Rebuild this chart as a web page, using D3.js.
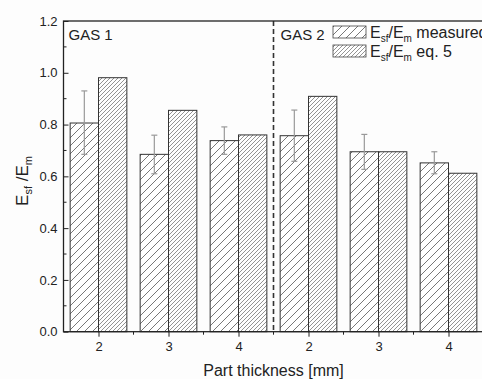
<!DOCTYPE html>
<html><head><meta charset="utf-8">
<script src="https://cdn.jsdelivr.net/npm/d3@7"></script>
<style>
html,body{margin:0;padding:0;background:#fdfdfd;}
text{font-family:"Liberation Sans",Arial,sans-serif;fill:#222;}
</style></head>
<body>
<svg id="chart" width="482" height="379"></svg>
<script>
const categories = ["2","3","4","2","3","4"];
const groupLabels = ["GAS 1","GAS 2"];
const measured = [0.806, 0.685, 0.738, 0.757, 0.695, 0.652];
const errHigh = [0.930, 0.759, 0.791, 0.856, 0.762, 0.695];
const errLow  = [0.685, 0.610, 0.685, 0.658, 0.627, 0.610];
const eq5 = [0.981, 0.855, 0.760, 0.909, 0.695, 0.612];
const yTicks = [0, 0.2, 0.4, 0.6, 0.8, 1.0, 1.2];

const svg = d3.select("#chart");
const x = d3.scaleLinear().domain([0.5, 6.5]).range([63.5, 483.5]);
const y = d3.scaleLinear().domain([0, 1.2]).range([331.7, 21]);
const bw = 0.405;

const defs = svg.append("defs");
function hatch(id, size, col, sw){
  const p = defs.append("pattern").attr("id", id).attr("patternUnits","userSpaceOnUse")
    .attr("width", size).attr("height", size);
  p.append("rect").attr("width",size).attr("height",size).attr("fill","#fff");
  p.append("path").attr("d",`M0,${size} L${size},0 M${-size/2},${size/2} L${size/2},${-size/2} M${size/2},${size*1.5} L${size*1.5},${size/2}`)
    .attr("stroke",col).attr("stroke-width",sw);
}
hatch("hMeas", 8, "#555", 0.8);
hatch("hEq", 4, "#666", 0.7);

const idx = d3.range(categories.length);
// bars
svg.append("g").selectAll("rect").data(idx).join("rect")
  .attr("x", i => x(i+1-bw)).attr("width", i => x(i+1) - x(i+1-bw))
  .attr("y", i => y(measured[i])).attr("height", i => y(0) - y(measured[i]))
  .attr("fill","url(#hMeas)").attr("stroke","#333").attr("stroke-width",1);
svg.append("g").selectAll("rect").data(idx).join("rect")
  .attr("x", i => x(i+1)).attr("width", i => x(i+1+bw) - x(i+1))
  .attr("y", i => y(eq5[i])).attr("height", i => y(0) - y(eq5[i]))
  .attr("fill","url(#hEq)").attr("stroke","#333").attr("stroke-width",1);
// error bars
const eg = svg.append("g").attr("stroke","#999").attr("stroke-width",1.2);
idx.forEach(i => {
  const cx = x(i+1-bw/2);
  eg.append("line").attr("x1",cx).attr("x2",cx).attr("y1",y(errLow[i])).attr("y2",y(errHigh[i]));
  eg.append("line").attr("x1",cx-3).attr("x2",cx+3).attr("y1",y(errLow[i])).attr("y2",y(errLow[i]));
  eg.append("line").attr("x1",cx-3).attr("x2",cx+3).attr("y1",y(errHigh[i])).attr("y2",y(errHigh[i]));
});

// dashed separator
svg.append("line").attr("x1",x(3.5)).attr("x2",x(3.5)).attr("y1",y(1.2)).attr("y2",y(0))
  .attr("stroke","#333").attr("stroke-width",1.6).attr("stroke-dasharray","5,3");

// frame
svg.append("rect").attr("x",x(0.5)).attr("y",y(1.2)).attr("width",x(6.5)-x(0.5)).attr("height",y(0)-y(1.2))
  .attr("fill","none").attr("stroke","#222").attr("stroke-width",1.3);

// y axis (ticks inward)
const ya = svg.append("g").attr("transform",`translate(${x(0.5)},0)`)
  .call(d3.axisRight(y).tickValues(yTicks).tickFormat(d3.format(".1f")).tickSize(5));
ya.select(".domain").remove();
ya.selectAll("line").attr("stroke","#222");
ya.selectAll("text").attr("x",-6).attr("text-anchor","end").style("font-size","13px").attr("fill","#222");
const yMinor = d3.range(0.1, 1.2, 0.2);
svg.append("g").selectAll("line").data(yMinor).join("line")
  .attr("x1",x(0.5)).attr("x2",x(0.5)+3).attr("y1",d=>y(d)).attr("y2",d=>y(d)).attr("stroke","#222");

// x axis
const xa = svg.append("g").attr("transform",`translate(0,${y(0)})`)
  .call(d3.axisBottom(x).tickValues(d3.range(1,7)).tickFormat((d,i)=>categories[i]).tickSize(5).tickPadding(5));
xa.select(".domain").remove();
xa.selectAll("line").attr("stroke","#222");
xa.selectAll("text").style("font-size","13px").attr("fill","#222");
svg.append("g").selectAll("line").data(d3.range(1.5,6.5,1)).join("line")
  .attr("x1",d=>x(d)).attr("x2",d=>x(d)).attr("y1",y(0)).attr("y2",y(0)+3).attr("stroke","#222");

// group labels
svg.append("text").attr("x",x(0.5)+5).attr("y",40).style("font-size","15px").text(groupLabels[0]);
svg.append("text").attr("x",x(3.5)+7).attr("y",40).style("font-size","15px").text(groupLabels[1]);

// legend
const legend = [{fill:"url(#hMeas)", label:"measured"},{fill:"url(#hEq)", label:"eq. 5"}];
legend.forEach((d,i) => {
  const ly = 26 + i*19;
  svg.append("rect").attr("x",333).attr("y",ly).attr("width",33).attr("height",12)
    .attr("fill",d.fill).attr("stroke","#444").attr("stroke-width",0.8);
  const t = svg.append("text").attr("x",370).attr("y",ly+12).style("font-size","16px");
  t.append("tspan").text("E");
  t.append("tspan").attr("dy",4).style("font-size","10px").text("sf");
  t.append("tspan").attr("dy",-4).text("/E");
  t.append("tspan").attr("dy",4).style("font-size","10px").text("m");
  t.append("tspan").attr("dy",-4).text(" " + d.label);
});

// axis titles
svg.append("text").attr("x",x(3.5)).attr("y",376).attr("text-anchor","middle").style("font-size","16px").text("Part thickness [mm]");
const yt = svg.append("text").attr("transform","translate(28,181) rotate(-90)").attr("text-anchor","middle").style("font-size","17px");
yt.append("tspan").text("E");
yt.append("tspan").attr("dy",4).style("font-size","11px").text("sf");
yt.append("tspan").attr("dy",-4).text(" /E");
yt.append("tspan").attr("dy",4).style("font-size","11px").text("m");
</script>
</body></html>
